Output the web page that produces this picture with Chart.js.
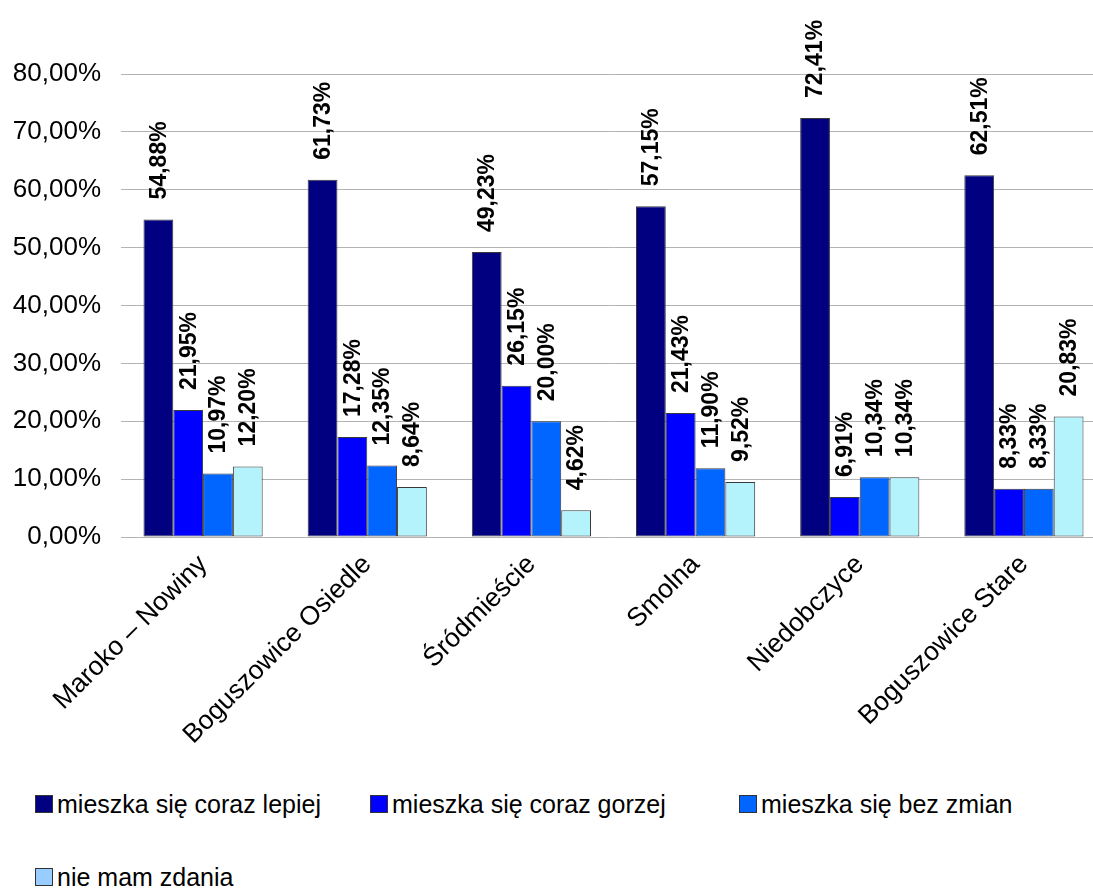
<!DOCTYPE html>
<html lang="pl">
<head>
<meta charset="utf-8">
<title>Ocena warunków mieszkania</title>
<script src="https://cdn.jsdelivr.net/npm/chart.js@4.4.0/dist/chart.umd.min.js"></script>
<style>
  body { margin: 0; background: #fff; font-family: "Liberation Sans", Arial, sans-serif; }
  #wrap { position: relative; width: 1093px; height: 891px; overflow: hidden; }
  #box { position: absolute; left: 0; top: 0; width: 1106px; height: 780px; }
  #legenda { position: absolute; left: 35px; top: 791px; width: 1050px;
             display: grid; grid-template-columns: 335px 369px auto; row-gap: 47px; }
  .poz { display: flex; align-items: center; font-size: 25px; color: #000; line-height: 26px; }
  .kw { width: 18px; height: 18px; border: 1px solid #333; margin-right: 4px; box-sizing: border-box; }
</style>
</head>
<body>
<div id="wrap">
  <div id="box"><canvas id="wykres"></canvas></div>
  <div id="legenda"></div>
</div>
<script>
// dzielnice
const dzielnice = ['Maroko – Nowiny', 'Boguszowice Osiedle', 'Śródmieście', 'Smolna', 'Niedobczyce', 'Boguszowice Stare'];

// odpowiedzi w %
const lepiej = [54.88, 61.73, 49.23, 57.15, 72.41, 62.51];
const gorzej = [21.95, 17.28, 26.15, 21.43, 6.91, 8.33];
const bezZmian = [10.97, 12.35, 20.00, 11.90, 10.34, 8.33];
const brakZdania = [12.20, 8.64, 4.62, 9.52, 10.34, 20.83];

const nazwy = ['mieszka się coraz lepiej', 'mieszka się coraz gorzej', 'mieszka się bez zmian', 'nie mam zdania'];
const kolory = ['#000080', '#0000ff', '#0066ff', '#b4f2fc'];
const kolorySwatch = ['#000080', '#0000ff', '#0066ff', '#99ccff'];

const yTicks = [0, 10, 20, 30, 40, 50, 60, 70, 80];

const fmt = v => v.toFixed(2).replace('.', ',') + '%';
const FONT = '"Liberation Sans", Arial, sans-serif';

// etykiety wartości nad słupkami, pionowo
const etykiety = {
    id: 'etykiety',
    afterDatasetsDraw(chart) {
        const ctx = chart.ctx;
        ctx.save();
        ctx.font = 'bold 23px ' + FONT;
        ctx.fillStyle = '#000';
        ctx.textAlign = 'left';
        ctx.textBaseline = 'middle';
        chart.data.datasets.forEach((ds, i) => {
            chart.getDatasetMeta(i).data.forEach((bar, j) => {
                ctx.save();
                ctx.translate(bar.x + 1, bar.y - 20);
                ctx.rotate(-Math.PI / 2);
                ctx.fillText(fmt(ds.data[j]), 0, 0);
                ctx.restore();
            });
        });
        ctx.restore();
    }
};

const seria = [lepiej, gorzej, bezZmian, brakZdania];

new Chart(document.getElementById('wykres'), {
    type: 'bar',
    data: {
        labels: dzielnice,
        datasets: seria.map((d, i) => ({
            label: nazwy[i],
            data: d,
            backgroundColor: kolory[i],
            borderColor: '#3a3a3a',
            borderWidth: 1,
            borderSkipped: false,
            barPercentage: 1,
            categoryPercentage: 0.726
        }))
    },
    options: {
        responsive: true,
        maintainAspectRatio: false,
        animation: false,
        layout: { padding: { top: 74, right: 0, left: 0, bottom: 0 } },
        plugins: {
            legend: { display: false },
            tooltip: { enabled: false }
        },
        scales: {
            x: {
                grid: { display: false },
                border: { display: false },
                ticks: {
                    color: '#000',
                    font: { family: FONT, size: 26.5 },
                    minRotation: 45,
                    maxRotation: 45,
                    padding: 4
                },
                afterFit(s) { s.height = 243; }
            },
            y: {
                min: 0,
                max: 80,
                afterBuildTicks(s) { s.ticks = yTicks.map(v => ({ value: v })); },
                grid: { color: '#b3b3b3', lineWidth: 1, drawTicks: false },
                border: { display: false },
                ticks: {
                    color: '#000',
                    font: { family: FONT, size: 26 },
                    padding: 20,
                    callback: v => fmt(v)
                },
                afterFit(s) { s.width = 121; }
            }
        }
    },
    plugins: [etykiety]
});

// legenda
const leg = document.getElementById('legenda');
nazwy.forEach((n, i) => {
    const p = document.createElement('div');
    p.className = 'poz';
    const k = document.createElement('span');
    k.className = 'kw';
    k.style.background = kolorySwatch[i];
    p.appendChild(k);
    p.appendChild(document.createTextNode(n));
    leg.appendChild(p);
});
</script>
</body>
</html>
